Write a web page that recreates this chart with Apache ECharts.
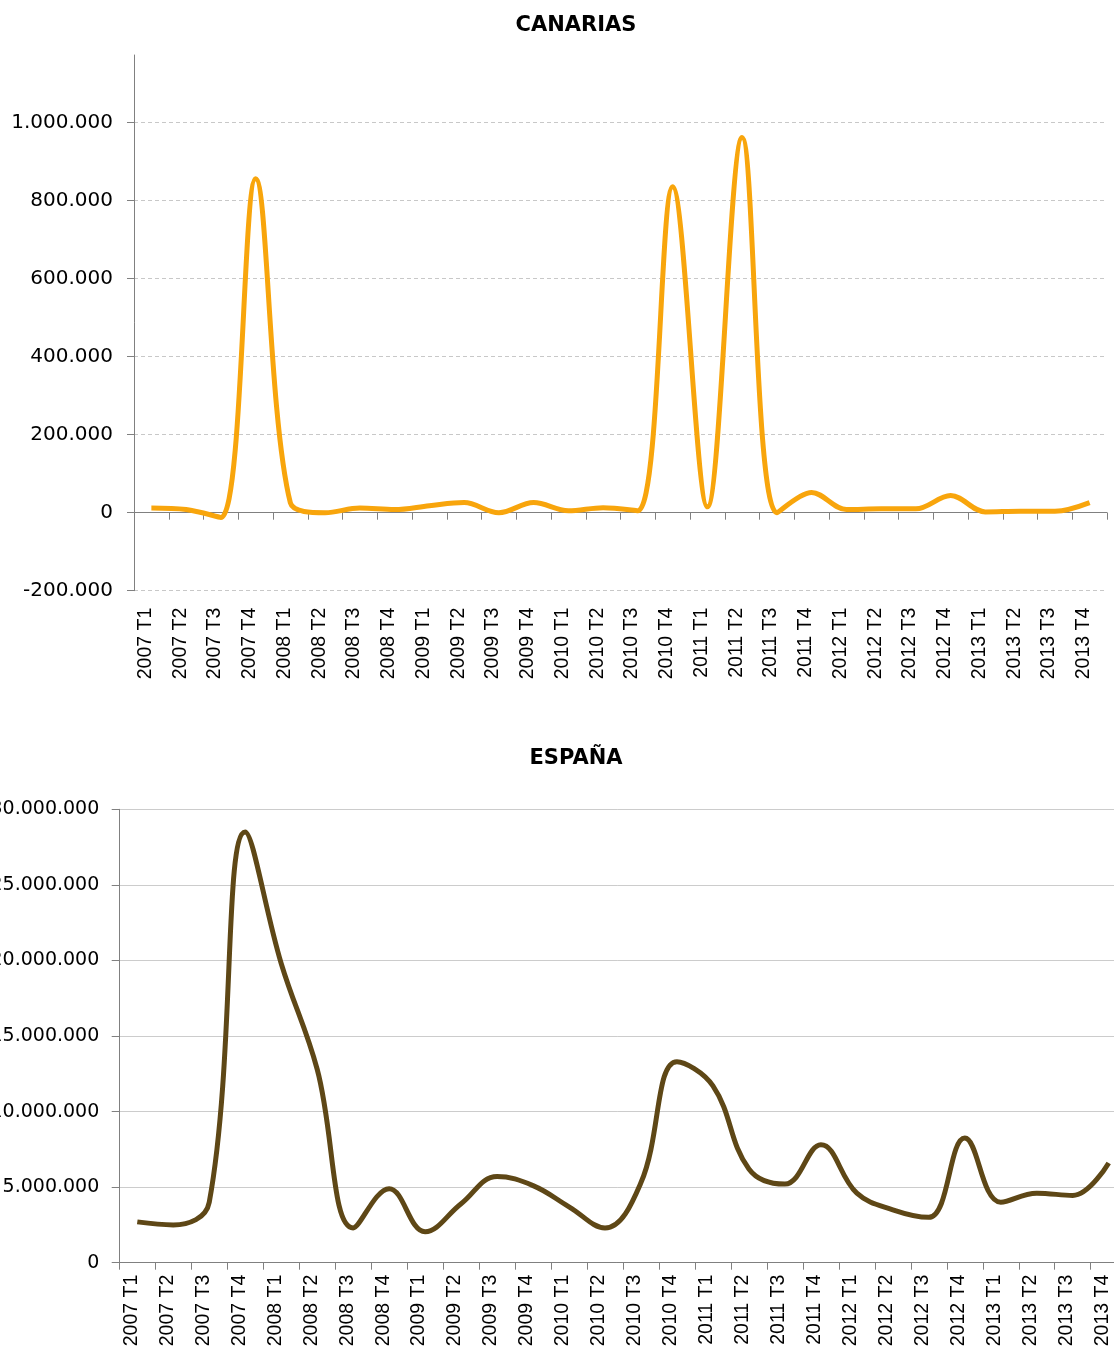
<!DOCTYPE html>
<html>
<head>
<meta charset="utf-8">
<script src="https://cdn.jsdelivr.net/npm/echarts@6/dist/echarts.min.js"></script>
<style>
html,body{margin:0;padding:0;background:#fff;}
#chart{width:1114px;height:1355px;}
</style>
</head>
<body>
<div id="chart"></div>
<script>
const categories = ['2007 T1','2007 T2','2007 T3','2007 T4','2008 T1','2008 T2','2008 T3','2008 T4',
  '2009 T1','2009 T2','2009 T3','2009 T4','2010 T1','2010 T2','2010 T3','2010 T4',
  '2011 T1','2011 T2','2011 T3','2011 T4','2012 T1','2012 T2','2012 T3','2012 T4',
  '2013 T1','2013 T2','2013 T3','2013 T4'];

const canarias = [12000, 8000, -12000, 856000, 25000, 0, 12000, 8000,
  18000, 26000, 0, 26000, 5000, 13000, 5000, 836000,
  15000, 962000, 0, 52000, 8000, 10000, 10000, 44000,
  2000, 4000, 4000, 26000];

const espana = [2700000, 2500000, 4000000, 28500000, 19800000, 12800000, 2300000, 4900000,
  2050000, 3900000, 5700000, 5100000, 3700000, 2300000, 5300000, 13300000,
  11700000, 6200000, 5200000, 7800000, 4600000, 3500000, 3000000, 8250000,
  4000000, 4600000, 4450000, 6600000];

const canariasTicks = [-200000, 0, 200000, 400000, 600000, 800000, 1000000];
const espanaTicks = [0, 5000000, 10000000, 15000000, 20000000, 25000000, 30000000];

function fmt(v) {
  const s = String(Math.abs(Math.round(v))).replace(/\B(?=(\d{3})+(?!\d))/g, '.');
  return (v < 0 ? '-' : '') + s;
}

const axisGray = '#808080';
const catFont = {fontFamily: 'Liberation Sans', fontSize: 19.5, color: '#000',
  verticalAlign: 'bottom', lineHeight: 12};

const chart = echarts.init(document.getElementById('chart'), null, {renderer: 'canvas'});
chart.setOption({
  backgroundColor: '#fff',
  animation: false,
  title: [
    {text: 'CANARIAS', left: 576, top: 15, textAlign: 'center', padding: 0,
     textStyle: {fontFamily: 'DejaVu Sans', fontWeight: 'bold', fontSize: 21, color: '#000'}},
    {text: 'ESPAÑA', left: 576, top: 748, textAlign: 'center', padding: 0,
     textStyle: {fontFamily: 'DejaVu Sans', fontWeight: 'bold', fontSize: 21, color: '#000'}}
  ],
  grid: [
    {left: 134, right: 7, top: 55, height: 535.7, containLabel: false, outerBoundsMode: 'none'},
    {left: 119.3, right: -12.7, top: 809.3, height: 453.4, containLabel: false, outerBoundsMode: 'none'}
  ],
  xAxis: [
    {type: 'category', gridIndex: 0, data: categories, boundaryGap: true, position: 'bottom',
     axisLine: {show: true, onZero: true, lineStyle: {color: axisGray, width: 1}},
     axisTick: {show: true, length: 7, interval: 0, lineStyle: {color: axisGray}},
     axisLabel: {show: false}, splitLine: {show: false}},
    {type: 'category', gridIndex: 0, data: categories, boundaryGap: true, position: 'bottom',
     axisLine: {show: false, onZero: false}, axisTick: {show: false},
     axisLabel: Object.assign({show: true, rotate: 90, interval: 0, margin: 17}, catFont),
     splitLine: {show: false}},
    {type: 'category', gridIndex: 1, data: categories, boundaryGap: true, position: 'bottom',
     axisLine: {show: true, onZero: true, lineStyle: {color: axisGray, width: 1}},
     axisTick: {show: true, length: 7, interval: 0, lineStyle: {color: axisGray}},
     axisLabel: Object.assign({show: true, rotate: 90, interval: 0, margin: 12}, catFont),
     splitLine: {show: false}}
  ],
  yAxis: [
    {type: 'value', gridIndex: 0, min: -200000, max: 1173600, interval: 200000,
     axisLine: {show: true, lineStyle: {color: axisGray, width: 1}},
     axisTick: {show: true, length: 7, customValues: canariasTicks, lineStyle: {color: axisGray}},
     axisLabel: {show: true, margin: 21, customValues: canariasTicks, formatter: fmt,
       fontFamily: 'DejaVu Sans', fontSize: 20, color: '#000'},
     splitLine: {show: true, lineStyle: {color: '#c8c8c8', type: [4, 3], width: 1}}},
    {type: 'value', gridIndex: 1, min: 0, max: 30000000, interval: 5000000,
     axisLine: {show: true, lineStyle: {color: axisGray, width: 1}},
     axisTick: {show: true, length: 7.6, lineStyle: {color: axisGray}},
     axisLabel: {show: true, margin: 20, formatter: fmt,
       fontFamily: 'DejaVu Sans', fontSize: 19, color: '#000'},
     splitLine: {show: true, lineStyle: {color: '#cccccc', type: 'solid', width: 1}}}
  ],
  series: [
    {name: 'Canarias', type: 'line', xAxisIndex: 0, yAxisIndex: 0, data: canarias,
     smooth: 0.35, symbol: 'none', lineStyle: {color: '#F8A50C', width: 5}, z: 5},
    {name: 'España', type: 'line', xAxisIndex: 2, yAxisIndex: 1, data: espana,
     smooth: 0.4, symbol: 'none', lineStyle: {color: '#5E4716', width: 5}, z: 5}
  ]
});
</script>
</body>
</html>
